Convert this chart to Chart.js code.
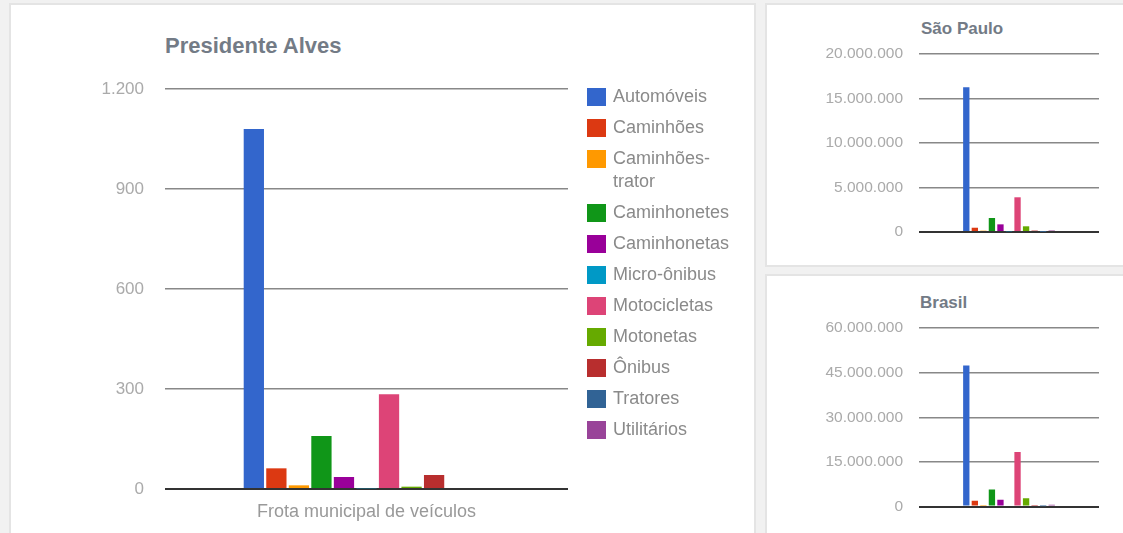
<!DOCTYPE html>
<html lang="pt-BR">
<head>
<meta charset="utf-8">
<title>Frota de veículos</title>
<script src="https://cdn.jsdelivr.net/npm/chart.js@4.4.0/dist/chart.umd.min.js"></script>
<style>
    html, body { margin: 0; padding: 0; }
    body {
        width: 1123px; height: 533px; overflow: hidden; position: relative;
        background: #f1f1f1;
        font-family: "Liberation Sans", Arial, sans-serif;
    }
    .panel { position: absolute; background: #fff; border: 2px solid #e4e4e4; box-sizing: border-box; }
    #pMain { left: 9px; top: 3px; width: 747px; height: 545px; }
    #pSP { left: 765px; top: 3px; width: 370px; height: 264px; }
    #pBR { left: 765px; top: 274px; width: 370px; height: 275px; }
    .box { position: absolute; }
    .title { position: absolute; font-weight: bold; color: #737b86; white-space: nowrap; }
    #tMain { left: 165px; top: 33px; font-size: 22px; line-height: 26px; }
    #tSP { left: 921px; top: 19px; font-size: 17px; line-height: 20px; }
    #tBR { left: 920px; top: 293px; font-size: 17px; line-height: 20px; }
    #legend { position: absolute; left: 587px; top: 85px; }
    .item { display: flex; align-items: flex-start; margin-bottom: 8px; }
    .swatch { width: 19px; height: 18px; margin-top: 2.5px; margin-right: 7px; flex: none; }
    .label { font-size: 18px; line-height: 23px; color: #8a8a8a; width: 118px; }
</style>
</head>
<body>
<div class="panel" id="pMain"></div>
<div class="panel" id="pSP"></div>
<div class="panel" id="pBR"></div>

<div class="title" id="tMain">Presidente Alves</div>
<div class="title" id="tSP">São Paulo</div>
<div class="title" id="tBR">Brasil</div>

<div class="box" style="left:12px; top:5px; width:740px; height:528px;"><canvas id="mainChart"></canvas></div>
<div class="box" style="left:767px; top:5px; width:356px; height:261px;"><canvas id="spChart"></canvas></div>
<div class="box" style="left:767px; top:276px; width:356px; height:257px;"><canvas id="brChart"></canvas></div>

<div id="legend"></div>

<script>
/* ===== DATA ===== */
const categories = ["Frota municipal de veículos"];
const vehicleTypes = ["Automóveis", "Caminhões", "Caminhões-trator", "Caminhonetes", "Caminhonetas",
    "Micro-ônibus", "Motocicletas", "Motonetas", "Ônibus", "Tratores", "Utilitários"];
const colors = ["#3366cc", "#dc3912", "#ff9900", "#109618", "#990099",
    "#0099c6", "#dd4477", "#66aa00", "#b82e2e", "#316395", "#994499"];

const presidenteAlves = [1080, 62, 11, 159, 36, 2, 284, 7, 42, 0, 0];
const saoPaulo = [16260000, 480000, 150000, 1570000, 860000, 70000, 3900000, 640000, 160000, 20000, 170000];
const brasil = [47400000, 1900000, 500000, 5700000, 2300000, 300000, 18300000, 2800000, 500000, 30000, 600000];

const mainTicks = [0, 300, 600, 900, 1200];
const spTicks = [0, 5000000, 10000000, 15000000, 20000000];
const brTicks = [0, 15000000, 30000000, 45000000, 60000000];

/* ===== HELPERS ===== */
function fmt(v) {
    return String(v).replace(/\B(?=(\d{3})+(?!\d))/g, ".");
}

function buildDatasets(values) {
    return vehicleTypes.map((name, i) => ({
        label: name,
        data: [values[i]],
        backgroundColor: colors[i]
    }));
}

function makeChart(id, values, ticks, cfg) {
    return new Chart(document.getElementById(id), {
        type: "bar",
        data: { labels: categories, datasets: buildDatasets(values) },
        options: {
            responsive: true,
            maintainAspectRatio: false,
            animation: false,
            layout: { padding: cfg.padding },
            datasets: { bar: { categoryPercentage: cfg.catPct, barPercentage: cfg.barPct } },
            plugins: { legend: { display: false }, tooltip: { enabled: false } },
            scales: {
                x: {
                    grid: { display: false },
                    border: { display: false },
                    ticks: {
                        display: cfg.showX,
                        color: "#999",
                        padding: 4,
                        font: { family: "Liberation Sans", size: 18 }
                    },
                    afterFit: s => { s.height = cfg.xHeight; }
                },
                y: {
                    min: ticks[0],
                    max: ticks[ticks.length - 1],
                    border: { display: false },
                    grid: {
                        drawTicks: false,
                        color: c => c.tick.value === 0 ? "#333" : "#888",
                        lineWidth: c => c.tick.value === 0 ? 2 : 1.5
                    },
                    afterBuildTicks: s => { s.ticks = ticks.map(v => ({ value: v })); },
                    ticks: {
                        color: "#aaa",
                        padding: cfg.yPad,
                        font: { family: "Liberation Sans", size: cfg.yFont },
                        callback: v => fmt(v)
                    },
                    afterFit: s => { s.width = cfg.yWidth; }
                }
            }
        }
    });
}

/* ===== CHARTS ===== */
const mainChart = makeChart("mainChart", presidenteAlves, mainTicks, {
    padding: { top: 84, right: 184, bottom: 0, left: 0 },
    catPct: 0.615, barPct: 0.9, showX: true, xHeight: 44,
    yWidth: 153, yPad: 21, yFont: 17
});

makeChart("spChart", saoPaulo, spTicks, {
    padding: { top: 49, right: 24, bottom: 34, left: 0 },
    catPct: 0.522, barPct: 0.74, showX: false, xHeight: 0,
    yWidth: 152, yPad: 16, yFont: 15.5
});

makeChart("brChart", brasil, brTicks, {
    padding: { top: 52, right: 24, bottom: 26.5, left: 0 },
    catPct: 0.522, barPct: 0.74, showX: false, xHeight: 0,
    yWidth: 152, yPad: 16, yFont: 15.5
});

/* ===== LEGEND (from the main chart's datasets) ===== */
const legend = document.getElementById("legend");
mainChart.data.datasets.forEach(ds => {
    const item = document.createElement("div");
    item.className = "item";
    const sw = document.createElement("div");
    sw.className = "swatch";
    sw.style.background = ds.backgroundColor;
    const txt = document.createElement("div");
    txt.className = "label";
    txt.textContent = ds.label;
    item.appendChild(sw);
    item.appendChild(txt);
    legend.appendChild(item);
});
</script>
</body>
</html>
